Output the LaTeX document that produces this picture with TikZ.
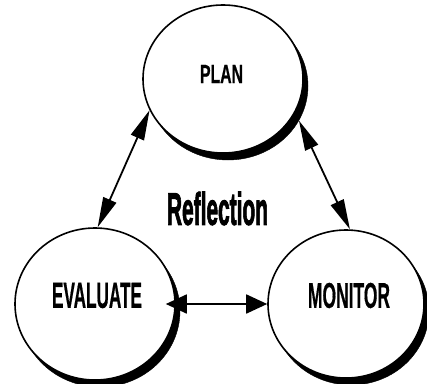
\documentclass[tikz,border=0pt]{standalone}
\usepackage{fontspec}
\usepackage{graphicx}
\setmainfont{Liberation Sans}
\newfontfamily\lblfont[BoldFeatures={FakeBold=0.8}]{Liberation Sans}
\newfontfamily\reflfont[BoldFeatures={FakeBold=2.5}]{Liberation Sans}
\usetikzlibrary{shapes.geometric,arrows.meta}
\tikzset{
  shadowell/.style={ellipse, fill=black, draw=black, inner sep=0pt},
  ringell/.style={ellipse, fill=white, draw=black, line width=1.6pt, inner sep=0pt},
  lbl/.style={inner sep=0pt, anchor=center},
  diagarrow/.style={line width=1.8pt, {Triangle[length=30pt,width=14pt]}-{Triangle[length=30pt,width=14pt]}},
  flatarrow/.style={line width=1.8pt, {Triangle[length=21pt,width=19pt]}-{Triangle[length=21pt,width=19pt]}}
}
\begin{document}
\begin{tikzpicture}[x=1pt,y=-1pt]
\useasboundingbox (0,0) rectangle (427,383);
% shadows
\node[shadowell, minimum width=160pt, minimum height=148pt] (planS) at (228,86) {};
\node[shadowell, minimum width=160pt, minimum height=152pt] (evalS) at (100,311) {};
\node[shadowell, minimum width=156pt, minimum height=148pt] (monS) at (351,311) {};
% ellipses
\node[ringell, minimum width=160pt, minimum height=148pt] (plan) at (223,79) {};
\node[ringell, minimum width=160pt, minimum height=152pt] (eval) at (95,304) {};
\node[ringell, minimum width=156pt, minimum height=148pt] (mon) at (346,304) {};
% labels
\node[lbl] (planT) at (221.5,74) {\resizebox{43pt}{18pt}{\lblfont\bfseries PLAN}};
\node[lbl] (evalT) at (97,295.5) {\resizebox{90pt}{25pt}{\lblfont\bfseries EVALUATE}};
\node[lbl] (monT) at (349,295.5) {\resizebox{82pt}{25pt}{\lblfont\bfseries MONITOR}};
\node[lbl] (refl) at (217.5,208.5) {\resizebox{101pt}{33pt}{\reflfont\bfseries Reflection}};
% connectors
\draw[diagarrow] (plan.203) -- (eval.88);
\draw[diagarrow] (planS.-26) -- (mon.87);
\draw[flatarrow, shorten <=-10pt] (eval.east) -- (mon.west);
\end{tikzpicture}
\end{document}
